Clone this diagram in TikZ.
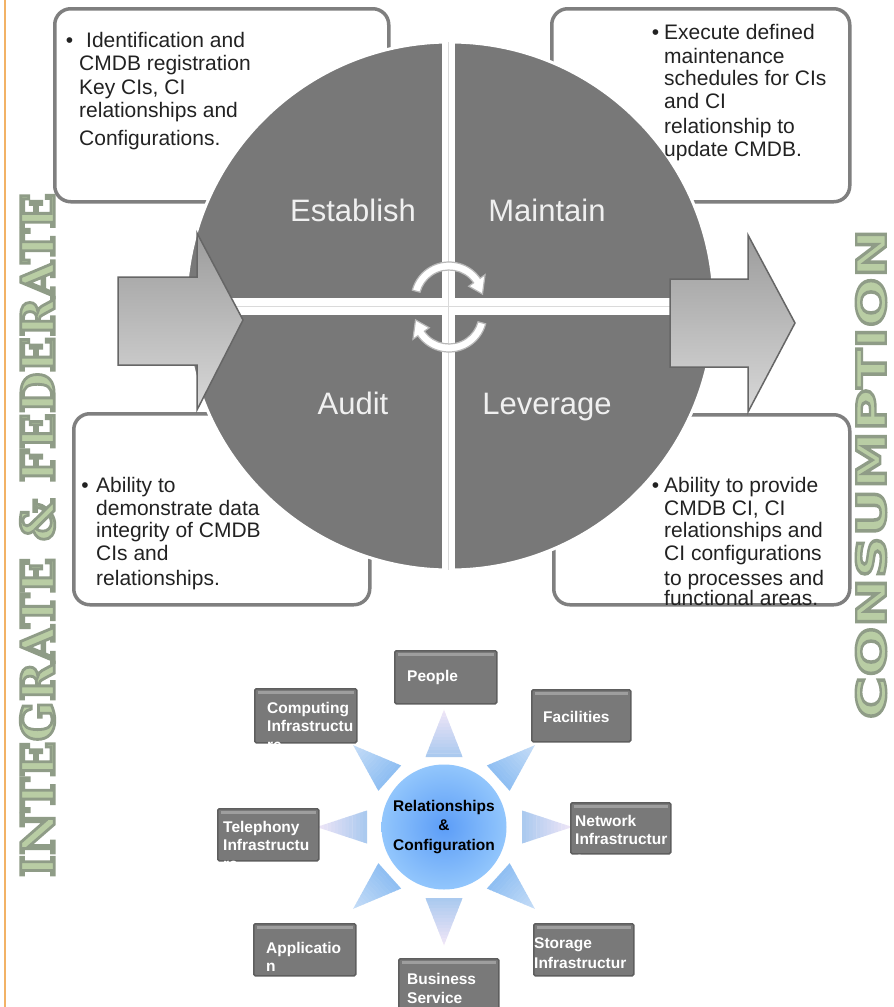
\documentclass[tikz,border=0pt]{standalone}
\usepackage{fontspec}
\setmainfont{Liberation Sans}
\newfontfamily\slabfont{DejaVu Serif}
\newfontfamily\widefont{DejaVu Sans}
\usepackage{graphicx}
\definecolor{quad}{HTML}{787878}
\definecolor{wboxline}{HTML}{7F7F7F}
\definecolor{txtdark}{HTML}{222222}
\definecolor{qtext}{HTML}{F0F0F0}
\definecolor{arrline}{HTML}{666666}
\definecolor{arrtop}{HTML}{9C9C9C}
\definecolor{arrmid}{HTML}{D0D0D0}
\definecolor{arrbot}{HTML}{D8D8D8}
\definecolor{ringline}{HTML}{B8B8B8}
\definecolor{gfill}{HTML}{797979}
\definecolor{gline}{HTML}{5E5E5E}
\definecolor{gstripc}{HTML}{9E9E9E}
\definecolor{rcin}{HTML}{5C9DF7}
\definecolor{rcout}{HTML}{92C6FC}
\definecolor{tbase}{HTML}{A9C9EF}
\definecolor{ttip}{HTML}{F1E6F7}
\definecolor{dbase}{HTML}{8EBEF2}
\definecolor{dtip}{HTML}{C6DDF7}
\definecolor{vgreen}{HTML}{B9CDA4}
\definecolor{edgeorange}{HTML}{F2B266}
\definecolor{crossline}{HTML}{DADADA}

\newcommand\outlinetext[1]{\special{pdf:literal direct 2 Tr 0.6 w 0.56 0.61 0.53 RG}#1\special{pdf:literal direct 0 Tr}}

\newcommand\startri[6]{%
\begin{scope}[shift={(444,827)},rotate=#1]
\foreach \k in {0,...,13}{%
\pgfmathsetmacro\ta{\k/14}%
\pgfmathsetmacro\tb{(\k+1)/14}%
\pgfmathtruncatemacro\pc{100*(\k+0.5)/14}%
\fill[#6!\pc!#5] ({#2+\ta*(#3-#2)},{-#4*(1-\ta)}) -- ({#2+\tb*(#3-#2)+0.4},{-#4*(1-\tb)}) -- ({#2+\tb*(#3-#2)+0.4},{#4*(1-\tb)}) -- ({#2+\ta*(#3-#2)},{#4*(1-\ta)}) -- cycle;}
\end{scope}}

\newcommand\greybox[5]{%
\node[gbox, minimum width={#4-#2}, minimum height={#5-#3}] (#1) at (#2,#3) {};
\draw[gstrip] ([xshift=4pt,yshift=-4pt]#1.north west) -- ([xshift=-4pt,yshift=-4pt]#1.north east);}

\tikzset{
  wbox/.style={draw=wboxline, line width=3.5pt, rounded corners=16pt, fill=white, inner sep=0pt, anchor=north west},
  btxt/.style={font=\fontsize{21}{24}\selectfont, text=txtdark, anchor=base west, inner sep=0pt},
  qlabel/.style={font=\fontsize{31}{31}\selectfont, text=qtext, anchor=base, inner sep=0pt},
  bigarrow/.style={top color=arrtop, middle color=arrmid, bottom color=arrbot, draw=arrline, line width=1.5pt, line join=miter},
  ringarrow/.style={fill=white, draw=ringline, line width=1.2pt},
  gbox/.style={draw=gline, line width=1.5pt, fill=gfill, rounded corners=1.5pt, inner sep=0pt, anchor=north west},
  gstrip/.style={draw=gstripc, line width=3pt},
  gtxt/.style={font=\bfseries\fontsize{15.5}{19}\selectfont, text=white, anchor=base west, inner sep=0pt},
  vtxt/.style={rotate=90, inner sep=0pt, text=vgreen},
}

\begin{document}
\begin{tikzpicture}[x=1pt,y=-1pt]
\useasboundingbox (0,0) rectangle (894,1007);
\fill[white] (0,0) rectangle (894,1007);
\draw[edgeorange, line width=2.5pt] (5,0) -- (5,1007);

% vertical side titles
\node[vtxt] (intfed) at (37.5,535) {\outlinetext{\resizebox{684pt}{34pt}{\slabfont\bfseries INTEGRATE \& FEDERATE}}};
\node[vtxt] (consum) at (871,474) {\outlinetext{\resizebox{490pt}{30pt}{\widefont\bfseries CONSUMPTION}}};

% text boxes
\node[wbox, minimum width=334pt, minimum height=193pt] (tlbox) at (53,7) {};
\node[wbox, minimum width=298pt, minimum height=193pt] (trbox) at (550,7) {};
\node[wbox, minimum width=296pt, minimum height=191pt] (blbox) at (72,412) {};
\node[wbox, minimum width=296pt, minimum height=190pt] (brbox) at (552,413) {};

% main circle
\fill[quad, draw=white, line width=3pt] (450,306) circle[radius=264];
\fill[white] (442,38) rectangle (455,575);
\fill[white] (182,297.5) rectangle (718,315);
\draw[crossline, line width=0.8pt] (448.5,42) -- (448.5,570);
\draw[crossline, line width=0.8pt] (186,306.5) -- (714,306.5);

\node[qlabel] (est) at (353,221) {Establish};
\node[qlabel] (mai) at (547,221) {Maintain};
\node[qlabel] (aud) at (353,414) {Audit};
\node[qlabel] (lev) at (547,414) {Leverage};

% big arrows
\shadedraw[bigarrow] (118,277) -- (197,277) -- (197,233) -- (243,320) -- (197,410) -- (197,365) -- (118,365) -- cycle;
\shadedraw[bigarrow] (670,279) -- (748,279) -- (748,235) -- (795,323) -- (748,412) -- (748,367) -- (670,367) -- cycle;

% circular arrows
\begin{scope}[shift={(449,300)}]
\draw[ringarrow] (-165:38) arc[start angle=-165, end angle=-35, radius=38] -- (-35:44) -- (-10:34) -- (-35:24) -- (-35:30) arc[start angle=-35, end angle=-165, radius=30] -- cycle;
\end{scope}
\begin{scope}[shift={(449,314)}]
\draw[ringarrow] (15:38) arc[start angle=15, end angle=145, radius=38] -- (145:44) -- (170:34) -- (145:24) -- (145:30) arc[start angle=145, end angle=15, radius=30] -- cycle;
\end{scope}

% box texts
\node[btxt] (tl1) at (79,47) {\llap{\textbullet\hspace{6pt}}\hspace{7pt}Identification and};
\node[btxt] (tl2) at (79,70) {CMDB registration};
\node[btxt] (tl3) at (79,94) {Key CIs, CI};
\node[btxt] (tl4) at (79,117) {relationships and};
\node[btxt] (tl5) at (79,145) {Configurations.};

\node[btxt] (tr1) at (664,39) {\llap{\textbullet\hspace{5pt}}Execute defined};
\node[btxt] (tr2) at (664,63) {maintenance};
\node[btxt] (tr3) at (664,85) {schedules for CIs};
\node[btxt] (tr4) at (664,108) {and CI};
\node[btxt] (tr5) at (664,133) {relationship to};
\node[btxt] (tr6) at (664,156) {update CMDB.};

\node[btxt] (bl1) at (96,492) {\llap{\textbullet\hspace{7.5pt}}Ability to};
\node[btxt] (bl2) at (96,515) {demonstrate data};
\node[btxt] (bl3) at (96,537) {integrity of CMDB};
\node[btxt] (bl4) at (96,560) {CIs and};
\node[btxt] (bl5) at (96,585) {relationships.};

\node[btxt] (br1) at (664,492) {\llap{\textbullet\hspace{5pt}}Ability to provide};
\node[btxt] (br2) at (664,515) {CMDB CI, CI};
\node[btxt] (br3) at (664,537) {relationships and};
\node[btxt] (br4) at (664,560) {CI configurations};
\node[btxt] (br5) at (664,585) {to processes and};
\node[btxt] (br6) at (664,605) {functional areas.};

% star triangles
\startri{90}{70}{117}{18.5}{tbase}{ttip}
\startri{-90}{71}{118}{18.5}{tbase}{ttip}
\startri{180}{77}{127}{16.5}{tbase}{ttip}
\startri{0}{78}{128}{16.5}{tbase}{ttip}
\startri{138}{73}{122}{17}{dbase}{dtip}
\startri{42}{73}{122}{17}{dbase}{dtip}
\startri{222}{73}{122}{17}{dbase}{dtip}
\startri{-42}{73}{122}{17}{dbase}{dtip}

\node[circle, minimum size=125pt, inner sep=0pt, inner color=rcin, outer color=rcout, align=center, font=\bfseries\fontsize{15.5}{19.5}\selectfont, text=black] (rc) at (444,827) {Relationships\\\&\\Configuration};

% grey boxes
\greybox{people}{394}{650}{496}{703}
\node[gtxt] (peopleT) at (407,681) {People};

\greybox{comp}{254}{688}{356}{742}
\begin{scope}
\clip (254,688) rectangle (356,746);
\node[gtxt] (comp1) at (267,713) {Computing};
\node[gtxt] (comp2) at (267,731) {Infrastructu};
\node[gtxt] (comp3) at (267,750) {re};
\end{scope}

\greybox{fac}{531}{689}{630}{741}
\node[gtxt] (facT) at (543,722) {Facilities};

\greybox{tel}{217}{808}{318}{860}
\begin{scope}
\clip (217,808) rectangle (318,864);
\node[gtxt] (tel1) at (223,832) {Telephony};
\node[gtxt] (tel2) at (223,850) {Infrastructu};
\node[gtxt] (tel3) at (223,869) {re};
\end{scope}

\greybox{net}{570}{802}{670}{853}
\begin{scope}
\clip (570,802) rectangle (670,857);
\node[gtxt] (net1) at (575,826) {Network};
\node[gtxt] (net2) at (575,844) {Infrastructur};
\node[gtxt] (net3) at (575,863) {e};
\end{scope}

\greybox{app}{253}{923}{355}{975}
\node[gtxt] (app1) at (266,953) {Applicatio};
\node[gtxt] (app2) at (266,971) {n};

\greybox{bus}{398}{958}{498}{1015}
\node[gtxt] (bus1) at (407,984) {Business};
\node[gtxt] (bus2) at (407,1003) {Service};

\greybox{sto}{533}{923}{633}{975}
\begin{scope}
\clip (533,923) rectangle (633,975);
\node[gtxt] (sto1) at (534,948) {Storage};
\node[gtxt] (sto2) at (534,968) {Infrastructur};
\end{scope}
\end{tikzpicture}
\end{document}
